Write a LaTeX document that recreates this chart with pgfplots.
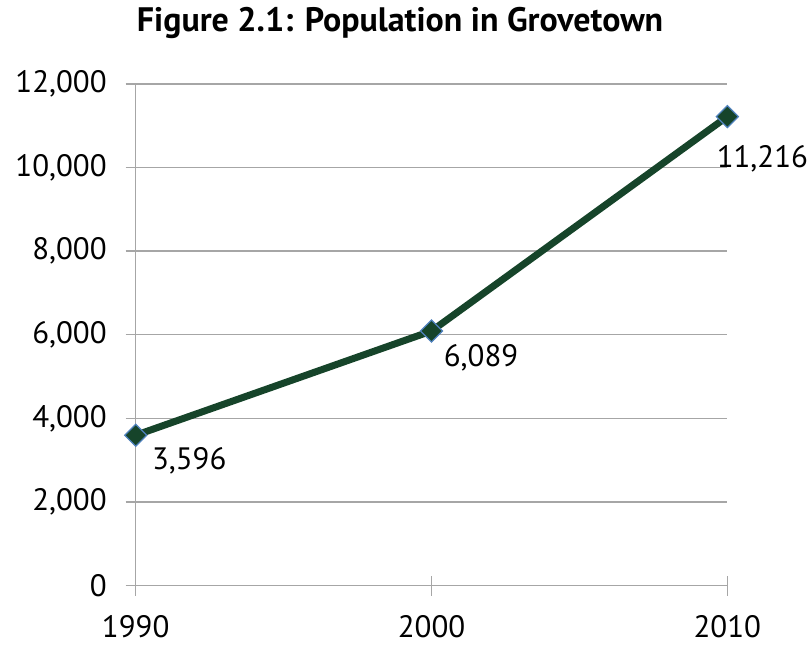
\documentclass[border=0pt]{standalone}
\usepackage{pgfplots}
\pgfplotsset{compat=1.18}
\usepackage{fontspec}
\setmainfont{PT Sans}
\definecolor{linegreen}{HTML}{16442A}
\definecolor{markblue}{HTML}{4F81BD}
\definecolor{gridgray}{HTML}{A6A6A6}
\begin{document}
\begin{tikzpicture}
\begin{axis}[
  scale only axis,
  width=296.5pt, height=251.5pt,
  xmin=1990, xmax=2010, ymin=0, ymax=12000,
  axis lines*=left,
  axis line style={gridgray, line width=0.75pt},
  ymajorgrids,
  grid style={gridgray, line width=0.75pt},
  xtick={1990,2000,2010},
  ytick={0,2000,4000,6000,8000,10000,12000},
  scaled y ticks=false,
  tick align=center,
  major tick length=10pt,
  tick style={gridgray, line width=0.75pt},
  /pgf/number format/assume math mode=true,
  xticklabel style={/pgf/number format/1000 sep={}, yshift=-6.5pt},
  yticklabel style={/pgf/number format/fixed, /pgf/number format/1000 sep={,}, xshift=-6pt},
  tick label style={font=\fontsize{15.5}{18}\selectfont},
  clip=false,
]
% population series, diamond markers drawn as rotated squares
\addplot[linegreen, line width=3.5pt, mark=square*, mark size=3.9pt,
  mark options={fill=linegreen, draw=markblue, line width=0.6pt, rotate=45}]
  coordinates {(1990,3596) (2000,6089) (2010,11216)};
\node[anchor=west, inner sep=0pt, font=\fontsize{15.5}{18}\selectfont]
  at (axis cs:1990,3596) [xshift=8pt, yshift=-13pt] {3,596};
\node[anchor=west, inner sep=0pt, font=\fontsize{15.5}{18}\selectfont]
  at (axis cs:2000,6089) [xshift=6pt, yshift=-13.5pt] {6,089};
\node[anchor=west, inner sep=0pt, font=\fontsize{15.5}{18}\selectfont]
  at (axis cs:2010,11216) [xshift=-5.5pt, yshift=-21pt] {11,216};
\end{axis}
\node[anchor=base, font=\bfseries\fontsize{17}{20}\selectfont]
  at ([shift={(132.5pt,277.5pt)}]current axis.south west)
  {Figure 2.1: Population in Grovetown};
\path ([shift={(-68pt,-29pt)}]current axis.south west)
  rectangle ([shift={(336pt,293.5pt)}]current axis.south west);
\end{tikzpicture}
\end{document}
